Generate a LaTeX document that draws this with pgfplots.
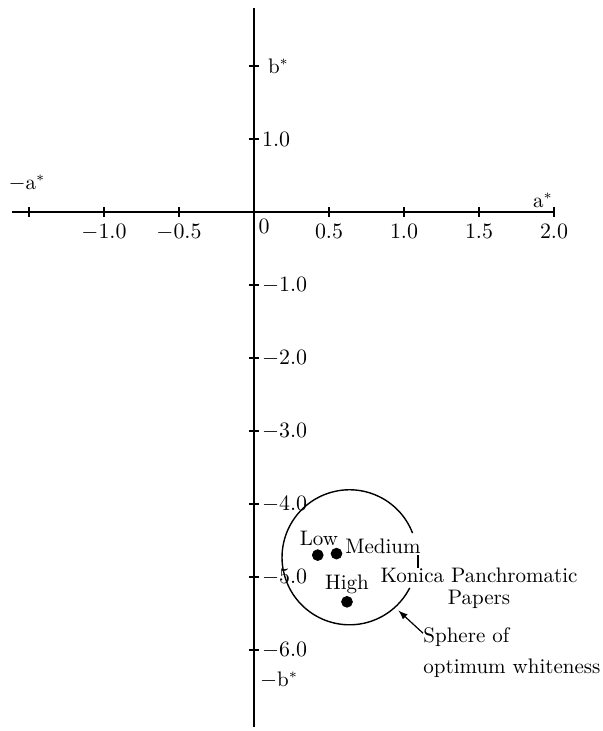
\documentclass[border=0pt]{standalone}
\usepackage{pgfplots}
\pgfplotsset{compat=1.18}
\begin{document}
\begin{tikzpicture}[font=\fontsize{10.5}{12.5}\selectfont]
\begin{axis}[
 scale only axis, width=301.5pt, height=365.5pt,
 xmin=-1.6933, xmax=2.3267, ymin=-7.1096, ymax=2.9041,
 axis lines=middle, axis line style={draw=none},
 hide obscured x ticks=false, hide obscured y ticks=false,
 xtick={-1.5,-1,-0.5,0.5,1,1.5,2},
 xticklabels={,$-1.0$,$-0.5$,$0.5$,$1.0$,$1.5$,$2.0$},
 extra x ticks={0}, extra x tick labels={$0$},
 extra x tick style={major tick length=0pt, xticklabel style={xshift=5pt}},
 ytick={-6,-5,-4,-3,-2,-1,1,2},
 yticklabels={$-6.0$,$-5.0$,$-4.0$,$-3.0$,$-2.0$,$-1.0$,$1.0$,\hspace*{3pt}b$^*$},
 tick align=center, major tick length=5pt, tick style={black, line width=0.6pt},
 xticklabel style={anchor=north},
 yticklabel style={anchor=west, xshift=3pt},
 clip=false,
 every node/.append style={inner sep=1pt},
]
\addplot[black, line width=0.9pt] coordinates {(-1.61,0) (2.0,0)};
\addplot[black, line width=0.9pt] coordinates {(0,-7.05) (0,2.8)};
\addplot[only marks, mark=*, mark size=2.7pt, black] coordinates {(0.425,-4.70) (0.55,-4.68) (0.62,-5.34)};
\addplot[black, line width=0.6pt] coordinates {(1.093,-4.70) (1.093,-4.88)};
\draw[line width=0.7pt] (axis cs:0.637,-4.73) ++(21:33.75pt) arc[start angle=21, end angle=333, radius=33.75pt];
\draw[-latex, line width=0.6pt] (axis cs:1.127,-5.77) -- (axis cs:0.963,-5.46);
\node at (axis cs:0.433,-4.466) {Low};
\node at (axis cs:0.86,-4.575) {Medium};
\node at (axis cs:0.62,-5.096) {High};
\node[align=center, font=\fontsize{10.5}{11}\selectfont] at (axis cs:1.5,-5.16) {Konica Panchromatic\\Papers};
\node[anchor=west, inner sep=0pt] at (axis cs:1.127,-5.822) {Sphere of};
\node[anchor=west, inner sep=0pt] at (axis cs:1.127,-6.247) {optimum whiteness};
\node at (axis cs:-1.513,0.397) {$-$a$^*$};
\node at (axis cs:1.927,0.164) {a$^*$};
\node at (axis cs:0.167,-6.41) {$-$b$^*$};
\end{axis}
\end{tikzpicture}
\end{document}
